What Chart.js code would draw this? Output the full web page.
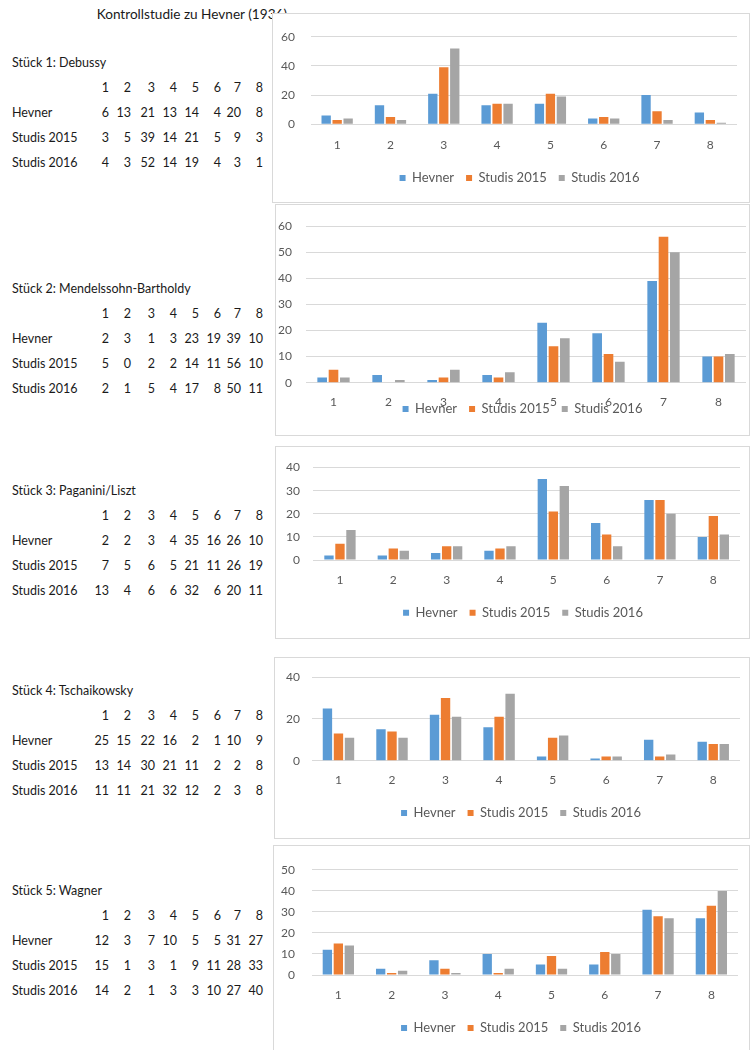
<!DOCTYPE html>
<html>
<head>
<meta charset="utf-8">
<title>Kontrollstudie zu Hevner (1936)</title>
<script src="https://cdn.jsdelivr.net/npm/chart.js@4.4.1/dist/chart.umd.min.js"></script>
<style>
  html, body { margin: 0; padding: 0; background: #fff; }
  body { width: 750px; height: 1050px; overflow: hidden; position: relative;
         font-family: Lato, "Liberation Sans", sans-serif; }
  .t { position: absolute; white-space: nowrap; font-size: 12.5px; line-height: 16px;
       height: 16px; color: #1a1a1a; }
  .n { text-align: right; width: 30px; }
  .title { font-size: 13.6px; }
  .box { position: absolute; background: #fff; border: 1px solid #d9d9d9;
         box-sizing: border-box; z-index: 2; }
  .box canvas { position: absolute; left: 0; top: 0; }
</style>
</head>
<body>
<script>
// ---- data -----------------------------------------------------------
const categories = ['1', '2', '3', '4', '5', '6', '7', '8'];
const seriesNames = ['Hevner', 'Studis 2015', 'Studis 2016'];
const pieceTitles = ['Stück 1: Debussy', 'Stück 2: Mendelssohn-Bartholdy',
                     'Stück 3: Paganini/Liszt', 'Stück 4: Tschaikowsky', 'Stück 5: Wagner'];

const debussyHevner = [6, 13, 21, 13, 14, 4, 20, 8];
const debussy2015   = [3, 5, 39, 14, 21, 5, 9, 3];
const debussy2016   = [4, 3, 52, 14, 19, 4, 3, 1];

const mendelssohnHevner = [2, 3, 1, 3, 23, 19, 39, 10];
const mendelssohn2015   = [5, 0, 2, 2, 14, 11, 56, 10];
const mendelssohn2016   = [2, 1, 5, 4, 17, 8, 50, 11];

const paganiniHevner = [2, 2, 3, 4, 35, 16, 26, 10];
const paganini2015   = [7, 5, 6, 5, 21, 11, 26, 19];
const paganini2016   = [13, 4, 6, 6, 32, 6, 20, 11];

const tschaikowskyHevner = [25, 15, 22, 16, 2, 1, 10, 9];
const tschaikowsky2015   = [13, 14, 30, 21, 11, 2, 2, 8];
const tschaikowsky2016   = [11, 11, 21, 32, 12, 2, 3, 8];

const wagnerHevner = [12, 3, 7, 10, 5, 5, 31, 27];
const wagner2015   = [15, 1, 3, 1, 9, 11, 28, 33];
const wagner2016   = [14, 2, 1, 3, 3, 10, 27, 40];

const yAxisMax  = [60, 60, 40, 40, 50];
const yAxisStep = [20, 10, 10, 20, 10];

const pieces = [
  [debussyHevner, debussy2015, debussy2016],
  [mendelssohnHevner, mendelssohn2015, mendelssohn2016],
  [paganiniHevner, paganini2015, paganini2016],
  [tschaikowskyHevner, tschaikowsky2015, tschaikowsky2016],
  [wagnerHevner, wagner2015, wagner2016]
];

// ---- styling ----------------------------------------------------------
const seriesColors = ['#5b9bd5', '#ed7d31', '#a5a5a5'];
const axisText = '#595959';
const gridColor = '#d9d9d9';

// ---- layout (page pixels) --------------------------------------------
const tableTitleY = [63, 289, 491, 691, 891];
const tableRowStep = 25;
const tableLabelX = 12;
const tableColRight = [109, 131, 155, 177, 199, 221, 241, 263];

// box: [left, top, right, bottom] border lines
// plot: [left, top, right, bottom] of the chart area
const chartLayouts = [
  { box: [272, 13, 749, 202],  plot: [310.5, 32.3, 737, 124.3],  xLabelY: 145,   yLabelRight: 295,   legendX: 519.5, legendY: 178 },
  { box: [275, 204, 749, 435], plot: [306, 219, 746, 382.7],     xLabelY: 401.7, yLabelRight: 292,   legendX: 522.5, legendY: 409 },
  { box: [275, 446, 749, 638], plot: [313.3, 466.7, 740, 560],   xLabelY: 580,   yLabelRight: 300,   legendX: 523,   legendY: 612.7 },
  { box: [274, 657, 749, 838], plot: [311.7, 677, 740, 760.7],   xLabelY: 780,   yLabelRight: 300,   legendX: 521,   legendY: 813 },
  { box: [273, 845, 749, 1070], plot: [311.7, 866, 738, 975],    xLabelY: 995,   yLabelRight: 295,   legendX: 521,   legendY: 1028 }
];

// ---- text helpers ----------------------------------------------------
function addText(str, x, cy, right, extraClass) {
  const el = document.createElement('div');
  el.className = 't' + (right ? ' n' : '') + (extraClass ? ' ' + extraClass : '');
  el.textContent = str;
  el.style.top = (cy - 8) + 'px';
  el.style.left = (right ? x - 30 : x) + 'px';
  document.body.appendChild(el);
}

addText('Kontrollstudie zu Hevner (1936)', 96.7, 14, false, 'title');

pieces.forEach((rows, p) => {
  const y0 = tableTitleY[p];
  addText(pieceTitles[p], tableLabelX, y0, false);
  categories.forEach((c, j) => addText(c, tableColRight[j], y0 + tableRowStep, true));
  rows.forEach((vals, r) => {
    const y = y0 + tableRowStep * (r + 2);
    addText(seriesNames[r], tableLabelX, y, false);
    vals.forEach((v, j) => addText(String(v), tableColRight[j], y, true));
  });
});

// ---- charts ----------------------------------------------------------
const tickFont = { family: 'Lato', size: 12 };
const legendFont = { family: 'Lato', size: 13 };
const legendPad = 12;

// Places the legend box freely inside the canvas (it may overlap the axis labels).
const legendPlacer = {
  id: 'legendPlacer',
  afterUpdate(chart, args, opts) {
    const lg = chart.legend;
    if (!lg) return;
    const w = lg.width;
    lg.left = opts.cx - w / 2;
    lg.right = lg.left + w;
    lg.top = opts.top;
    lg.height = opts.height;
    lg.bottom = opts.top + opts.height;
  }
};

pieces.forEach((rows, p) => {
  const L = chartLayouts[p];
  const [bl, bt, br, bb] = L.box;
  const box = document.createElement('div');
  box.className = 'box';
  box.style.left = bl + 'px';
  box.style.top = bt + 'px';
  box.style.width = (br - bl + 1) + 'px';
  box.style.height = (bb - bt + 1) + 'px';
  document.body.appendChild(box);

  const cL = bl + 1, cT = bt + 1, cW = br - bl - 1, cH = bb - bt - 1;
  const canvas = document.createElement('canvas');
  canvas.width = cW;
  canvas.height = cH;
  canvas.style.width = cW + 'px';
  canvas.style.height = cH + 'px';
  box.appendChild(canvas);

  const [pL, pT, pR, pB] = L.plot;
  const yWidth = pL - cL;
  const xHeight = L.xLabelY + 9 - pB;
  const padTop = pT - cT;
  const padRight = cL + cW - pR;
  const padBottom = cT + cH - pB - xHeight - 1;
  const xTickPad = L.xLabelY - pB - tickFont.size * 1.2 / 2;
  const yTickPad = pL - L.yLabelRight;
  const legendH = legendFont.size + legendPad + 10;
  const legendTop = L.legendY - cT - legendPad - legendFont.size / 2;

  new Chart(canvas, {
    type: 'bar',
    data: {
      labels: categories,
      datasets: rows.map((vals, r) => ({
        label: seriesNames[r],
        data: vals,
        backgroundColor: seriesColors[r],
        borderWidth: 0,
        categoryPercentage: 0.618,
        barPercentage: 0.85
      }))
    },
    plugins: [legendPlacer],
    options: {
      responsive: false,
      animation: false,
      devicePixelRatio: 1,
      layout: { padding: { top: padTop, right: padRight, bottom: padBottom, left: 0 } },
      plugins: {
        tooltip: { enabled: false },
        legend: {
          position: 'bottom',
          maxHeight: 1,
          labels: {
            boxWidth: 6, boxHeight: 6, padding: legendPad,
            font: legendFont, color: axisText
          }
        },
        legendPlacer: { cx: L.legendX - cL, top: legendTop, height: legendH }
      },
      scales: {
        x: {
          offset: true,
          grid: { display: false, drawTicks: false },
          border: { display: false },
          ticks: { font: tickFont, color: axisText, padding: xTickPad, maxRotation: 0 },
          afterFit: s => { s.height = xHeight; }
        },
        y: {
          min: 0,
          max: yAxisMax[p],
          ticks: { stepSize: yAxisStep[p], font: tickFont, color: axisText, padding: yTickPad },
          grid: { color: gridColor, lineWidth: 1, drawTicks: false },
          border: { display: false },
          afterFit: s => { s.width = yWidth; }
        }
      }
    }
  });
});
</script>
</body>
</html>
